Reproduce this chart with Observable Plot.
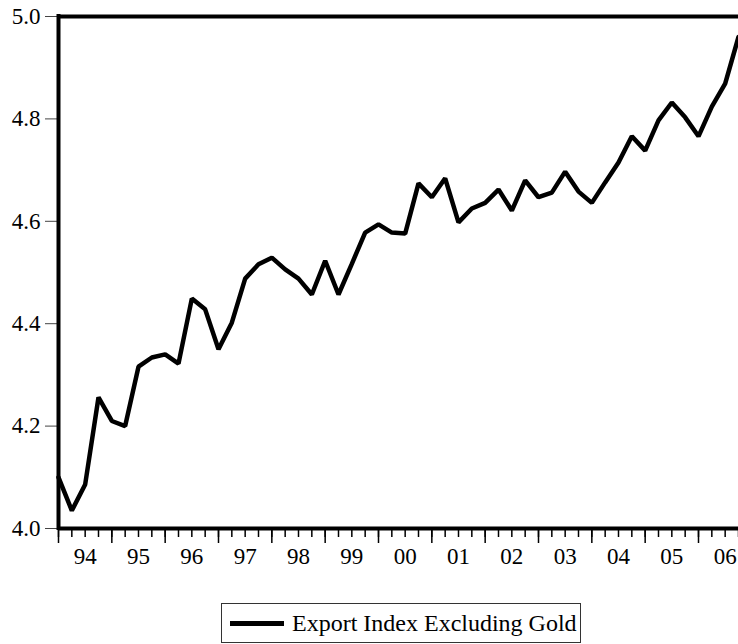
<!DOCTYPE html>
<html>
<head>
<meta charset="utf-8">
<script src="https://cdn.jsdelivr.net/npm/d3@7"></script>
<script src="https://cdn.jsdelivr.net/npm/@observablehq/plot@0.6"></script>
<style>
  html, body { margin: 0; padding: 0; background: #fff; }
  #wrap { position: relative; width: 738px; height: 644px; overflow: hidden; font-family: "Liberation Serif", "Times New Roman", serif; }
  #legend { position: absolute; left: 221px; top: 603px; width: 358px; height: 38px; border: 1px solid #333; box-sizing: content-box; }
  #legend .sw { position: absolute; left: 8px; top: 17px; width: 54px; height: 5px; background: #000; }
  #legend .tx { position: absolute; left: 70px; top: 5px; font-size: 24px; line-height: 28px; color: #000; white-space: nowrap; }
</style>
</head>
<body>
<div id="wrap">
  <div id="chart"></div>
  <div id="legend"><div class="sw"></div><div class="tx">Export Index Excluding Gold</div></div>
</div>
<script>
// Quarterly observations 1994Q1 .. 2006Q4
const yearLabels = ["94","95","96","97","98","99","00","01","02","03","04","05","06"];
const seriesName = "Export Index Excluding Gold";
const exportIndex = [
  4.100, 4.035, 4.086, 4.256,   // 94
  4.210, 4.200, 4.316, 4.334,   // 95
  4.340, 4.322, 4.449, 4.428,   // 96
  4.350, 4.402, 4.488, 4.516,   // 97
  4.529, 4.506, 4.488, 4.457,   // 98
  4.523, 4.457, 4.517, 4.578,   // 99
  4.594, 4.578, 4.576, 4.674,   // 00
  4.647, 4.684, 4.598, 4.625,   // 01
  4.636, 4.662, 4.621, 4.680,   // 02
  4.647, 4.656, 4.697, 4.658,   // 03
  4.636, 4.676, 4.715, 4.766,   // 04
  4.738, 4.797, 4.832, 4.803,   // 05
  4.766, 4.824, 4.869, 4.960    // 06
];
const yTicks = [4.0, 4.2, 4.4, 4.6, 4.8, 5.0];

const n = exportIndex.length;
const quarterIdx = d3.range(n);
const yearStartIdx = d3.range(0, n, 4);
const yearMidIdx = yearLabels.map((_, i) => i * 4 + 2);

const chart = Plot.plot({
  width: 738,
  height: 590,
  marginLeft: 58,
  marginRight: 0,
  marginTop: 16,
  marginBottom: 62,
  style: { fontFamily: "'Liberation Serif', 'Times New Roman', serif", fontSize: "23px", background: "white", color: "black" },
  x: { domain: [0, n - 1], axis: null },
  y: { domain: [4.0, 5.0], axis: null },
  marks: [
    Plot.axisY(yTicks, { tickSize: 13, tickPadding: 5, tickFormat: d => d.toFixed(1), label: null, stroke: "#444", strokeWidth: 1, fontSize: 23 }),
    Plot.axisX(quarterIdx, { tickSize: 9, tickFormat: () => "", label: null, strokeWidth: 1.5 }),
    Plot.axisX(yearStartIdx, { tickSize: 15, tickFormat: () => "", label: null, strokeWidth: 1.5 }),
    Plot.axisX(yearMidIdx, { tickSize: 0, tickPadding: 19, tickFormat: d => yearLabels[Math.round((d - 2) / 4)], label: null, fontSize: 23 }),
    Plot.line(exportIndex, { x: (d, i) => i, y: d => d, stroke: "#000", strokeWidth: 4.5, strokeLinejoin: "miter" }),
    Plot.ruleY([4.0, 5.0], { stroke: "#000", strokeWidth: 4 }),
    Plot.ruleX([0], { stroke: "#000", strokeWidth: 4, strokeLinecap: "square" })
  ]
});
document.getElementById("chart").appendChild(chart);
</script>
</body>
</html>
